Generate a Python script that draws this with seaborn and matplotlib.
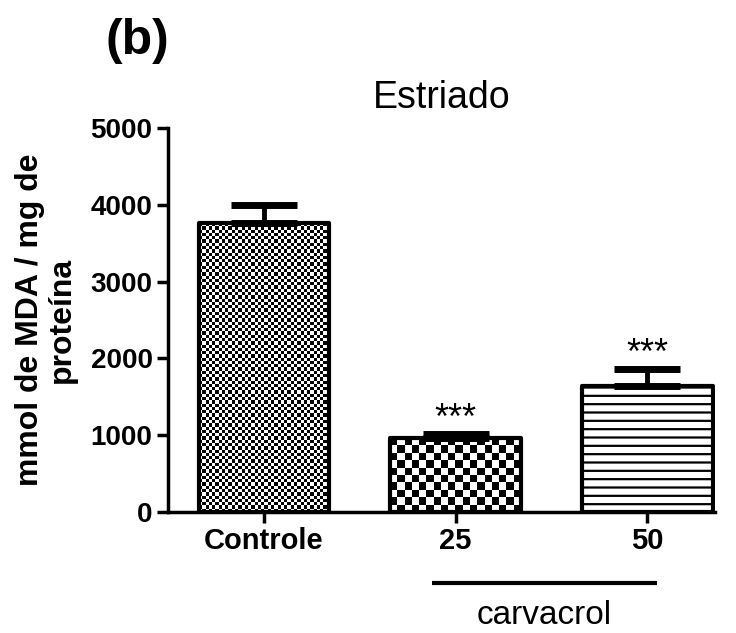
import numpy as np
import pandas as pd
import matplotlib
matplotlib.use("Agg")
import matplotlib.pyplot as plt
import seaborn as sns

# ---- data ----
groups = ["Controle", "25", "50"]
means = [3760, 960, 1640]
sem = [240, 60, 220]
signif = ["", "***", "***"]
yticks = [0, 1000, 2000, 3000, 4000, 5000]
title = "Estriado"
ylabel = "mmol de MDA / mg de\nproteína"
panel = "(b)"
group_label = "carvacrol"

sns.set_style("ticks")
plt.rcParams["font.family"] = ["Liberation Sans", "DejaVu Sans"]
plt.rcParams["hatch.linewidth"] = 1.6
plt.rcParams["hatch.color"] = "black"
for k in ["text.color", "axes.labelcolor", "xtick.color", "ytick.color",
          "axes.edgecolor"]:
    plt.rcParams[k] = "black"

fig = plt.figure(figsize=(7.36, 6.33), dpi=100)
ax = fig.add_axes([0.228, 0.191, 0.743, 0.607])

df = pd.DataFrame({"group": groups, "value": means})
sns.barplot(data=df, x="group", y="value", ax=ax, color="white",
            width=0.68, edgecolor="black", linewidth=3, errorbar=None,
            zorder=2)

ax.set_xlim(-0.5, 2.35)
ax.set_ylim(0, 5000)
ax.set_yticks(yticks)

bars = list(ax.patches)[:3]
cell_px = [3.3, 7.3, None]
for p, c in zip(bars, cell_px):
    p.set_facecolor("none")
    p.set_joinstyle("round")
    if c is None:
        p.set_hatch("--")
        p.set_facecolor("white")
        continue
    x0, y0 = p.get_x(), p.get_y()
    x1, y1 = x0 + p.get_width(), y0 + p.get_height()
    (px0, py0), (px1, py1) = ax.transData.transform([(x0, y0), (x1, y1)])
    nx = max(1, int(round(abs(px1 - px0) / c)))
    ny = max(1, int(round(abs(py1 - py0) / c)))
    ii, jj = np.indices((ny, nx))
    board = ((ii + jj) % 2).astype(float)
    im = ax.imshow(board, cmap="gray", extent=[x0, x1, y0, y1],
                   interpolation="nearest", aspect="auto", zorder=1,
                   vmin=0, vmax=1)
    im.set_clip_path(p)

ax.set_xlim(-0.5, 2.35)
ax.set_ylim(0, 5000)

x = np.arange(len(groups))
_, caps, vlines = ax.errorbar(x, means, yerr=[np.zeros(len(sem)), sem],
                              fmt="none", ecolor="black", elinewidth=3.5,
                              capsize=24, capthick=5, zorder=3)
for cap in caps:
    cap.set_solid_capstyle("round")

for xi, m, s, t in zip(x, means, sem, signif):
    if t:
        ax.annotate(t, (xi, m + s), xytext=(0, -2), textcoords="offset points",
                    ha="center", va="bottom", fontsize=26)

sns.despine(ax=ax)
for side in ["left", "bottom"]:
    ax.spines[side].set_linewidth(2.5)
ax.tick_params(axis="both", width=2.5, length=8, pad=3)
ax.tick_params(axis="x", labelsize=21)
ax.tick_params(axis="y", labelsize=20)
for lab in ax.get_xticklabels() + ax.get_yticklabels():
    lab.set_fontweight("bold")

ax.set_xlabel("")
ax.set_ylabel(ylabel, fontsize=23, fontweight="bold", labelpad=10,
              linespacing=1.05)
ax.set_title(title, fontsize=27, pad=14)

# group bracket line and label
ax.plot([0.878, 2.047], [-924, -924], color="black", lw=3, clip_on=False,
        solid_capstyle="butt")
ax.text(1.46, -1340, group_label, ha="center", va="center", fontsize=24,
        clip_on=False)

fig.text(0.143, 0.936, panel, fontsize=36, fontweight="bold",
         ha="left", va="center")

fig.savefig("out.png", dpi=100)
